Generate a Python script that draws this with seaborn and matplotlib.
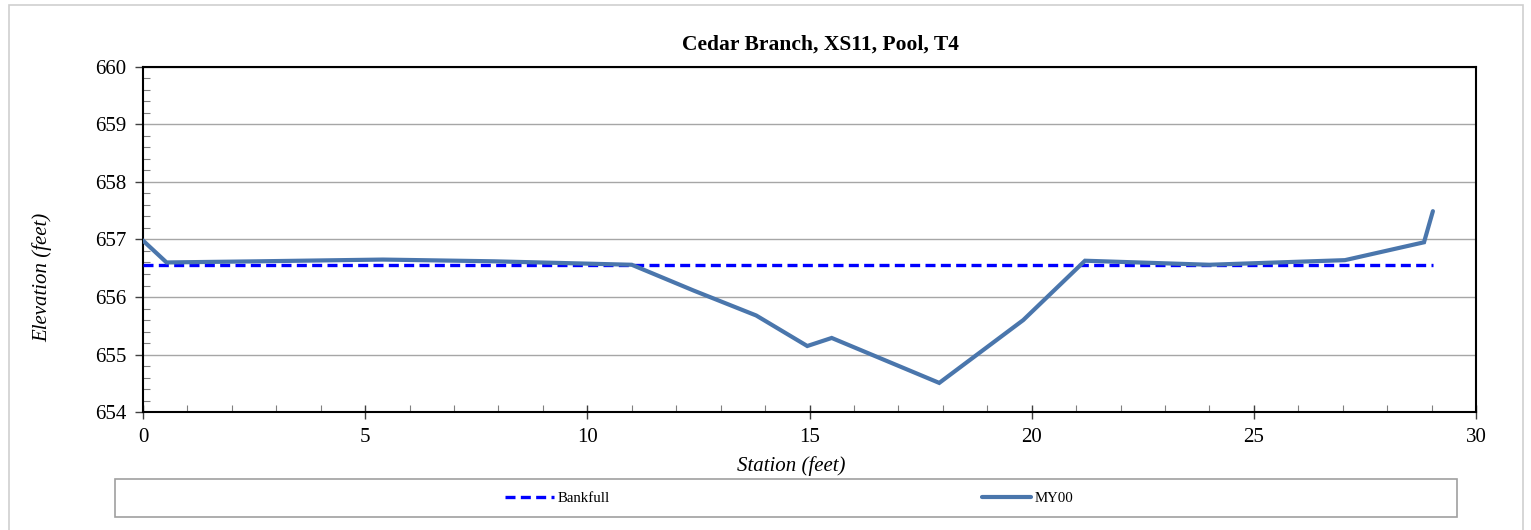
import matplotlib
matplotlib.use("Agg")
import matplotlib.pyplot as plt
import seaborn as sns
import pandas as pd
import numpy as np
from matplotlib.patches import Rectangle
from matplotlib.ticker import MultipleLocator
from matplotlib.lines import Line2D

# ---- data ----
title = "Cedar Branch, XS11, Pool, T4"
station_my00 = [0, 0.53, 2.6, 5.4, 7.9, 11.0, 12.4, 13.8, 14.95, 15.5, 17.92, 19.81, 21.2, 24.0, 27.05, 28.83, 29.03]
elev_my00 = [656.98, 656.60, 656.62, 656.65, 656.62, 656.56, 656.11, 655.68, 655.15, 655.29, 654.51, 655.60, 656.63, 656.56, 656.64, 656.95, 657.49]
station_bankfull = [0, 29.03]
elev_bankfull = [656.56, 656.56]
series_names = ["Bankfull", "MY00"]

sns.set_theme(style="white")
plt.rcParams['font.family'] = ['Liberation Serif', 'DejaVu Serif']
plt.rcParams['text.color'] = 'black'
plt.rcParams['axes.labelcolor'] = 'black'
plt.rcParams['xtick.color'] = 'black'
plt.rcParams['ytick.color'] = 'black'

W, H = 1531, 530
fig = plt.figure(figsize=(W / 100, H / 100), dpi=100)
ax = fig.add_axes([143 / W, 1 - 412.3 / H, (1476 - 143) / W, (412.3 - 66.5) / H])

df_b = pd.DataFrame({"Station": station_bankfull, "Elevation": elev_bankfull})
df_m = pd.DataFrame({"Station": station_my00, "Elevation": elev_my00})

bank_color = "#0000FF"
my_color = "#4A76AC"
sns.lineplot(data=df_b, x="Station", y="Elevation", ax=ax, color=bank_color,
             lw=2.4, linestyle=(0, (3.0, 1.6)), sort=False, zorder=3)
sns.lineplot(data=df_m, x="Station", y="Elevation", ax=ax, color=my_color,
             lw=3.0, sort=False, zorder=4, solid_joinstyle="miter")

ax.set_xlim(0, 30)
ax.set_ylim(654, 660)
ax.xaxis.set_major_locator(MultipleLocator(5))
ax.xaxis.set_minor_locator(MultipleLocator(1))
ax.yaxis.set_major_locator(MultipleLocator(1))
ax.yaxis.set_minor_locator(MultipleLocator(0.2))

ax.grid(axis="y", which="major", color="#A6A6A6", lw=1.0)
ax.grid(axis="x", visible=False)
ax.set_axisbelow(True)

for s in ax.spines.values():
    s.set_color("black")
    s.set_linewidth(1.5)

ax.tick_params(axis="x", which="major", direction="inout", length=10, width=1.0,
               color="#404040", labelsize=15, pad=6, labelcolor="black")
ax.tick_params(axis="x", which="minor", direction="in", length=5, width=0.8,
               color="#808080")
ax.tick_params(axis="y", which="major", direction="out", length=6, width=1.0,
               color="#404040", labelsize=15, pad=6, labelcolor="black")
ax.tick_params(axis="y", which="minor", direction="in", length=5, width=0.8,
               color="#808080", left=True)
ax.tick_params(axis="x", which="both", bottom=True)
ax.tick_params(axis="y", which="both", left=True)

ax.set_title(title, fontsize=15.5, fontweight="bold", pad=12, x=0.508, color="black")
ax.set_xlabel("Station (feet)", fontsize=15, fontstyle="italic", va="center")
ax.set_ylabel("Elevation (feet)", fontsize=15, fontstyle="italic", va="center")
ax.xaxis.set_label_coords((791 - 143) / 1333, (412.3 - 466) / 345.8)
ax.yaxis.set_label_coords((42 - 143) / 1333, (412.3 - 277) / 345.8)

# legend box
fig.patches.append(Rectangle((115 / W, 1 - 517 / H), (1457 - 115) / W, (517 - 479) / H,
                             transform=fig.transFigure, facecolor="white",
                             edgecolor="#A0A0A0", lw=1.2, zorder=0))
handles = [Line2D([], [], color=bank_color, lw=2.4, linestyle=(0, (3.0, 1.6))),
           Line2D([], [], color=my_color, lw=3.0)]
fig.legend(handles, series_names, loc="center", bbox_to_anchor=(789 / W, 1 - 498 / H),
           ncol=2, frameon=False, fontsize=10.7, handlelength=3.3, handletextpad=0.25,
           columnspacing=25.0)

# outer chart border
fig.patches.append(Rectangle((9 / W, -0.05), (1523 - 9) / W, 1.05 - 5 / H,
                             transform=fig.transFigure, facecolor="none",
                             edgecolor="#CFCFCF", lw=1.2, zorder=0))

fig.savefig("out.png", dpi=100)
